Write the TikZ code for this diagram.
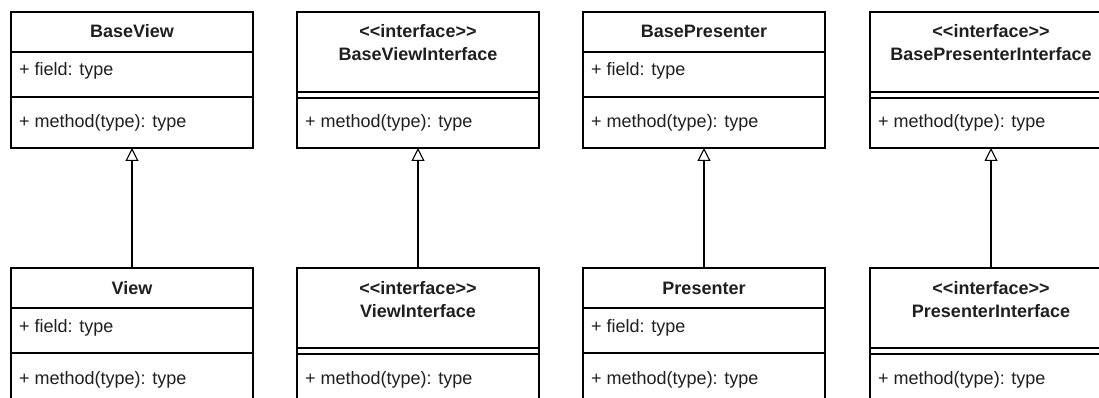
\documentclass[tikz,border=0pt]{standalone}
\usepackage{fontspec}
\setmainfont{Liberation Sans}
\usetikzlibrary{arrows.meta}
\tikzset{
  x=1pt, y=-1pt,
  frame/.style={draw=black, line width=1.3pt, minimum width=242pt, inner sep=0pt, outer sep=0pt, anchor=north west},
  title/.style={font=\bfseries\fontsize{18}{20}\selectfont, anchor=base, inner sep=0pt, text=black!88},
  member/.style={font=\fontsize{18}{20}\selectfont, anchor=base west, inner sep=0pt, text=black!88},
  divider/.style={draw=black, line width=1.3pt},
  inherit/.style={draw=black, line width=1.3pt, -{Triangle[open, length=13pt, width=13pt, line width=1.1pt]}}
}
\newcommand\umlclass[6]{% name, x, y, height, title, indent
  \node[frame, minimum height=#4pt] (#1) at (#2,#3) {};
  \node[title] (#1-title) at (#2+121,#3+26) {#5};
  \draw[divider] ([yshift=-40pt]#1.north west) -- ([yshift=-40pt]#1.north east);
  \draw[divider] ([yshift=-85pt]#1.north west) -- ([yshift=-85pt]#1.north east);
  \node[member] (#1-field) at (#2+#6,#3+64) {+ field: type};
  \node[member] (#1-method) at (#2+#6,#3+116) {+ method(type): type};
}
\newcommand\umliface[6]{% name, x, y, height, title, indent
  \node[frame, minimum height=#4pt] (#1) at (#2,#3) {};
  \node[title] (#1-stereo) at (#2+121,#3+26) {<{}<interface>{}>};
  \node[title] (#1-title) at (#2+121,#3+49) {#5};
  \draw[divider] ([yshift=-80pt]#1.north west) -- ([yshift=-80pt]#1.north east);
  \draw[divider] ([yshift=-86pt]#1.north west) -- ([yshift=-86pt]#1.north east);
  \node[member] (#1-method) at (#2+#6,#3+116) {+ method(type): type};
}
\begin{document}
\begin{tikzpicture}
  \useasboundingbox (0,0) rectangle (1099,398);
  \fill[white] (0,0) rectangle (1099,398);
  \clip (0,0) rectangle (1099,398);
  % top row
  \umlclass{baseview}{11}{12}{136}{BaseView}{8}
  \umliface{baseviewif}{297}{12}{136}{BaseViewInterface}{8}
  \umlclass{basepresenter}{583}{12}{136}{BasePresenter}{8}
  \umliface{basepresenterif}{870}{12}{136}{BasePresenterInterface}{8}
  % bottom row
  \umlclass{view}{11}{268}{160}{View}{8}
  \umliface{viewif}{297}{268}{160}{ViewInterface}{8}
  \umlclass{presenter}{583}{268}{160}{Presenter}{8}
  \umliface{presenterif}{870}{268}{160}{PresenterInterface}{8}
  % generalizations
  \draw[inherit] (view.north) -- (baseview.south);
  \draw[inherit] (viewif.north) -- (baseviewif.south);
  \draw[inherit] (presenter.north) -- (basepresenter.south);
  \draw[inherit] (presenterif.north) -- (basepresenterif.south);
\end{tikzpicture}
\end{document}
